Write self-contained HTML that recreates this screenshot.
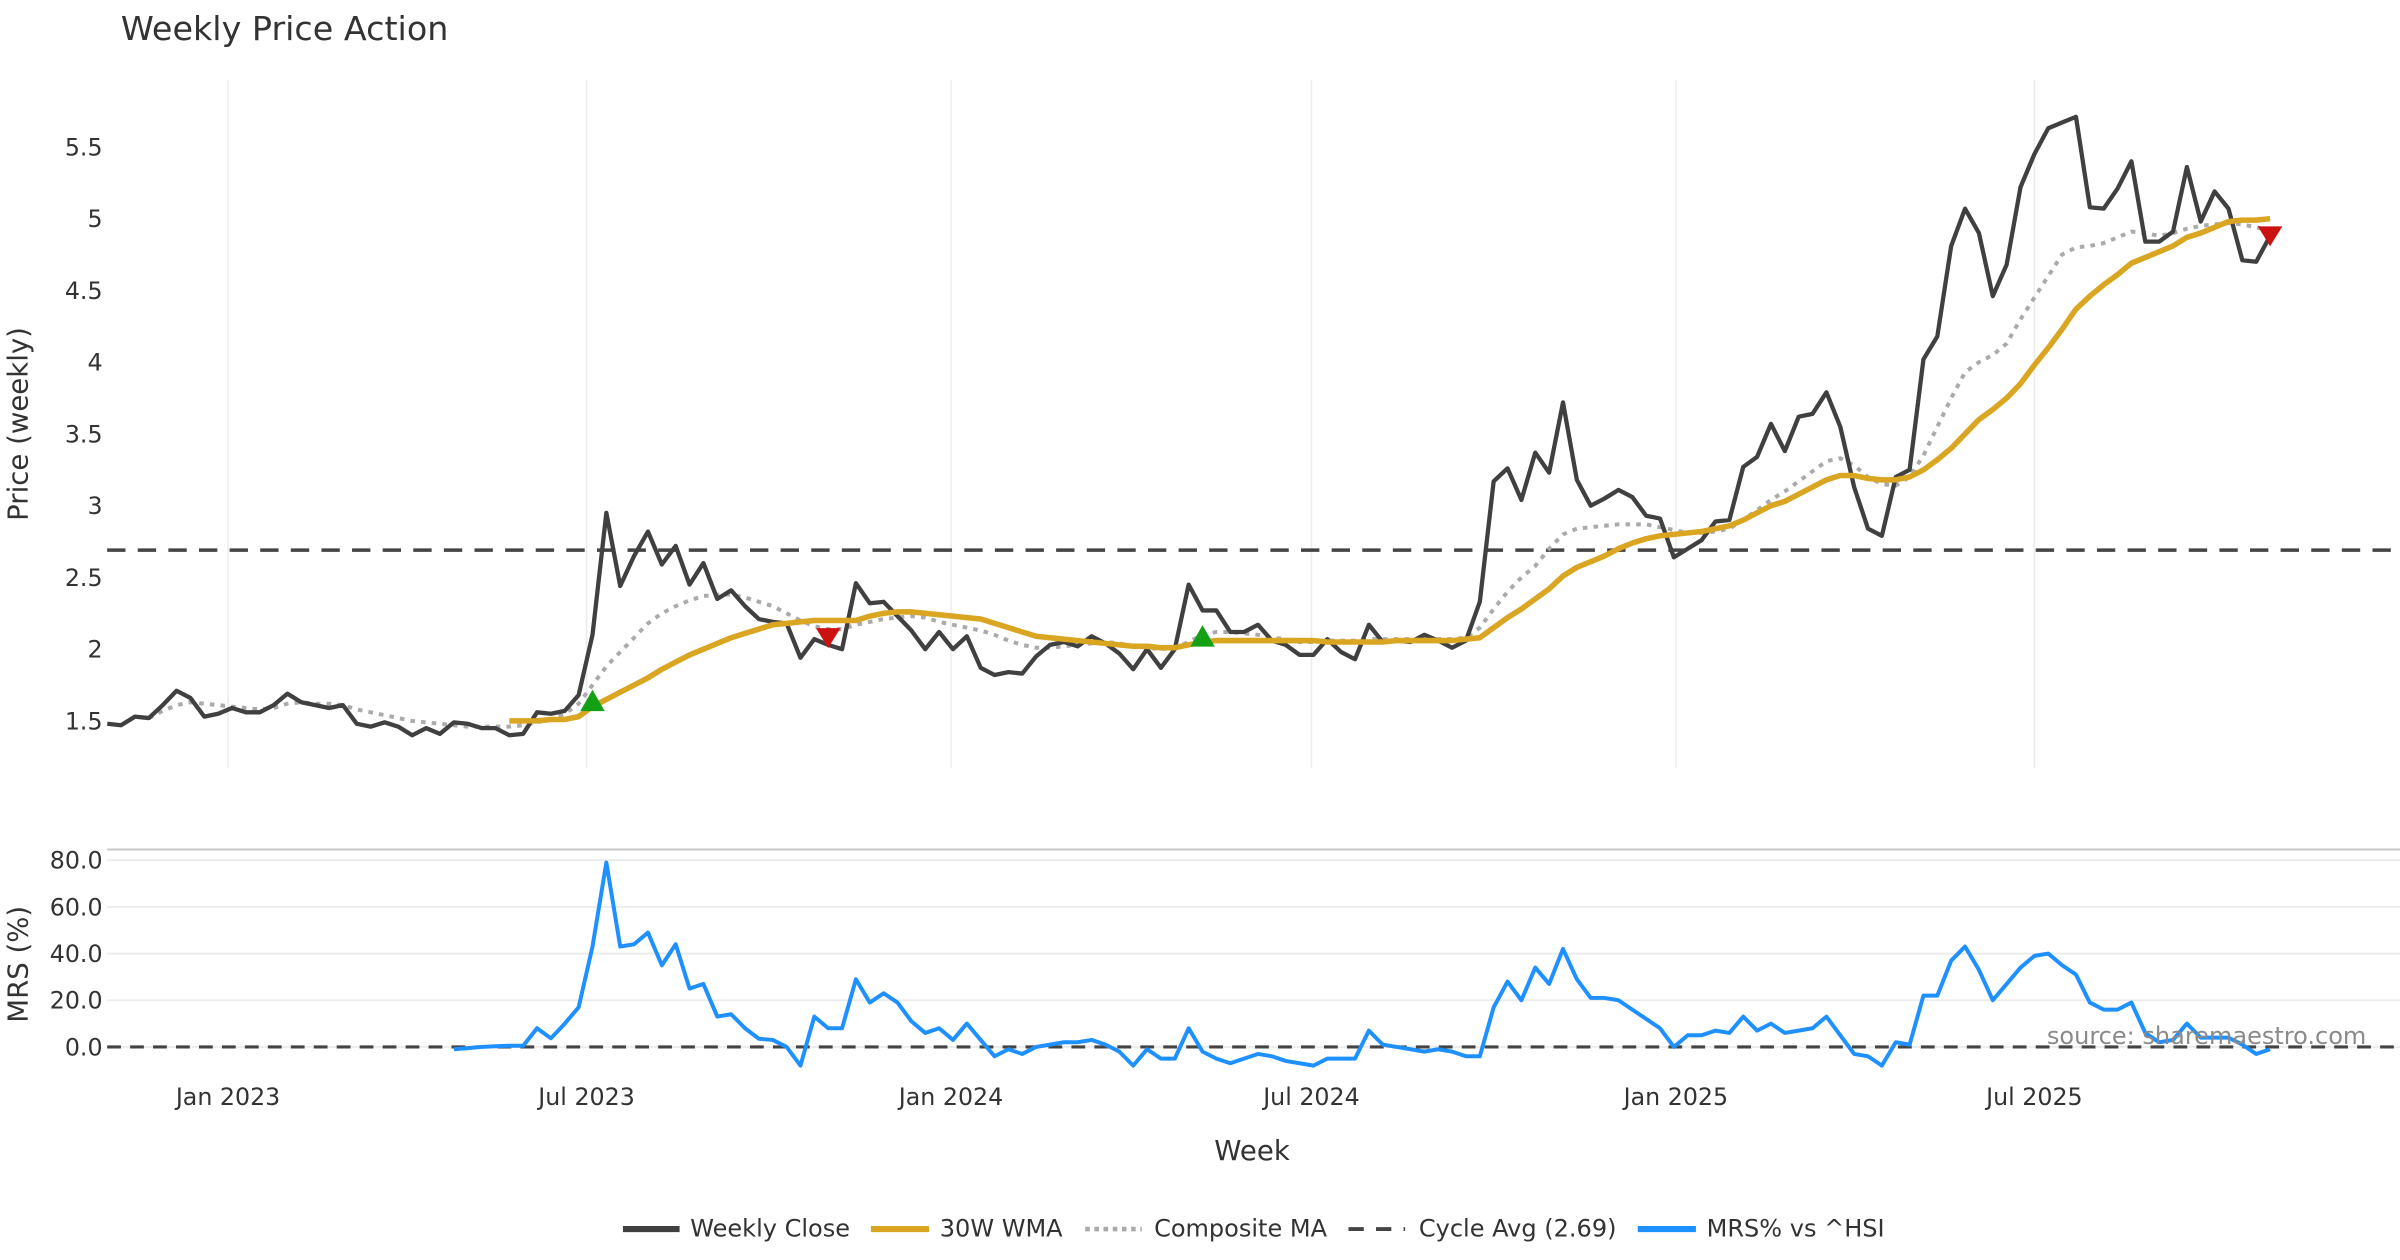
<!DOCTYPE html>
<html><head><meta charset="utf-8"><style>
html,body{margin:0;padding:0;background:#fff;}
svg{display:block;font-family:"DejaVu Sans","Liberation Sans",sans-serif;}
</style></head><body>
<svg id="chart" width="2400" height="1260" viewBox="0 0 1568 823.2" preserveAspectRatio="none" xmlns="http://www.w3.org/2000/svg">
<text x="79" y="26" font-size="21.8" fill="#333">Weekly Price Action</text>
<g id="grid"></g><g id="price"></g><g id="mrs"></g><g id="axes"></g>
<text x="0" y="0" transform="translate(18,277) rotate(-90)" text-anchor="middle" font-size="18" fill="#333">Price (weekly)</text>
<text x="0" y="0" transform="translate(18,630) rotate(-90)" text-anchor="middle" font-size="18" fill="#333">MRS (%)</text>
<text x="818" y="758" text-anchor="middle" font-size="18" fill="#333">Week</text>
<text x="1546" y="682" text-anchor="end" font-size="15.7" fill="#8a8a8a">source: sharemaestro.com</text>
<g font-size="15.7" fill="#333">
 <g><line x1="407" y1="803" x2="444" y2="803" stroke="#404040" stroke-width="4"/><text x="451" y="808">Weekly Close</text></g>
 <g><line x1="569" y1="803" x2="607" y2="803" stroke="#DAA520" stroke-width="4"/><text x="614" y="808">30W WMA</text></g>
 <g><line x1="709" y1="803" x2="746" y2="803" stroke="#aaa" stroke-width="3" stroke-dasharray="3,3"/><text x="754" y="808">Composite MA</text></g>
 <g><line x1="881" y1="803" x2="918" y2="803" stroke="#444" stroke-width="2.5" stroke-dasharray="10,8"/><text x="927" y="808">Cycle Avg (2.69)</text></g>
 <g><line x1="1070" y1="803" x2="1108" y2="803" stroke="#1E90FF" stroke-width="4"/><text x="1115" y="808">MRS% vs ^HSI</text></g>
</g>
</svg>
<script>
const closeVals=[1.48,1.47,1.53,1.52,1.61,1.71,1.66,1.53,1.55,1.59,
1.56,1.56,1.61,1.69,1.63,1.61,1.59,1.61,1.48,1.46,
1.49,1.46,1.40,1.45,1.41,1.49,1.48,1.45,1.45,1.40,
1.41,1.56,1.55,1.57,1.68,2.10,2.95,2.44,2.65,2.82,
2.59,2.72,2.45,2.60,2.35,2.41,2.30,2.21,2.19,2.18,
1.94,2.07,2.03,2.00,2.46,2.32,2.33,2.23,2.13,2.00,
2.12,2.00,2.09,1.87,1.82,1.84,1.83,1.95,2.03,2.05,
2.02,2.09,2.04,1.97,1.86,2.00,1.87,2.00,2.45,2.27,
2.27,2.12,2.12,2.17,2.06,2.03,1.96,1.96,2.07,1.98,
1.93,2.17,2.05,2.06,2.05,2.10,2.06,2.01,2.06,2.33,
3.17,3.26,3.04,3.37,3.23,3.72,3.18,3.00,3.05,3.11,
3.06,2.93,2.91,2.64,2.70,2.76,2.89,2.90,3.27,3.34,
3.57,3.38,3.62,3.64,3.79,3.55,3.13,2.84,2.79,3.20,
3.25,4.02,4.18,4.81,5.07,4.90,4.46,4.68,5.22,5.45,
5.63,5.67,5.71,5.08,5.07,5.21,5.40,4.84,4.84,4.91,
5.36,4.98,5.19,5.07,4.71,4.70,4.88];
const wmaStart=29;
const wmaVals=[1.50,1.50,1.50,1.51,1.51,1.53,1.60,1.65,1.70,1.75,1.80,1.86,1.91,1.96,2.00,2.04,2.08,2.11,2.14,2.17,2.18,2.19,2.20,2.20,2.20,2.20,2.23,2.25,2.26,2.26,2.25,2.24,2.23,2.22,2.21,2.18,2.15,2.12,2.09,2.08,2.07,2.06,2.05,2.04,2.03,2.02,2.02,2.01,2.01,2.03,2.05,2.06,2.06,2.06,2.06,2.06,2.06,2.06,2.06,2.05,2.05,2.05,2.05,2.05,2.06,2.06,2.06,2.06,2.06,2.07,2.08,2.15,2.22,2.28,2.35,2.42,2.51,2.57,2.61,2.65,2.70,2.74,2.77,2.79,2.80,2.81,2.82,2.84,2.86,2.90,2.95,3.00,3.03,3.08,3.13,3.18,3.21,3.21,3.19,3.18,3.18,3.20,3.25,3.32,3.40,3.50,3.60,3.67,3.75,3.85,3.98,4.10,4.23,4.37,4.46,4.54,4.61,4.69,4.73,4.77,4.81,4.87,4.90,4.94,4.98,4.99,4.99,5.00];
const compStart=3;
const compVals=[1.52,1.57,1.61,1.63,1.62,1.61,1.60,1.59,1.58,1.59,1.62,1.63,1.62,1.62,1.61,1.58,1.56,1.54,1.52,1.50,1.49,1.48,1.47,1.46,1.46,1.46,1.46,1.47,1.49,1.51,1.55,1.62,1.75,1.88,1.98,2.08,2.18,2.25,2.30,2.34,2.37,2.38,2.38,2.36,2.33,2.30,2.25,2.20,2.16,2.14,2.14,2.17,2.19,2.21,2.22,2.23,2.22,2.19,2.17,2.15,2.13,2.10,2.06,2.03,2.01,2.01,2.02,2.03,2.04,2.05,2.04,2.02,2.01,2.00,2.01,2.05,2.10,2.12,2.12,2.11,2.10,2.08,2.07,2.05,2.05,2.06,2.06,2.06,2.07,2.07,2.07,2.07,2.07,2.07,2.07,2.08,2.15,2.28,2.40,2.50,2.58,2.70,2.80,2.84,2.85,2.86,2.87,2.87,2.87,2.85,2.83,2.81,2.81,2.82,2.84,2.90,2.97,3.04,3.10,3.17,3.24,3.31,3.33,3.28,3.20,3.15,3.14,3.20,3.35,3.55,3.75,3.93,4.00,4.05,4.13,4.30,4.45,4.60,4.75,4.80,4.81,4.83,4.87,4.91,4.90,4.88,4.90,4.93,4.95,4.96,4.97,4.96,4.94,4.92];
const mrsStart=25;
const mrsVals=[-1,-0.5,0,0.3,0.5,0.5,8,3.7,10,17,43,79,43,44,49,35,44,25,27,13,14,8,3.5,3,0,-8,13,8,8,29,19,23,19,11,6,8,3,10,3,-4,-1,-3,0,1,2,2,3,1,-2,-8,-1,-5,-5,8,-2,-5,-7,-5,-3,-4,-6,-7,-8,-5,-5,-5,7,1,0,-1,-2,-1,-2,-4,-4,17,28,20,34,27,42,29,21,21,20,16,12,8,0,5,5,7,6,13,7,10,6,7,8,13,5,-3,-4,-8,2,1,22,22,37,43,33,20,27,34,39,40,35,31,19,16,16,19,6,2,3,10,4,4,4,1,-3,-1];
const cycleAvg=2.69;
const buyIdx=[35,79];
const sellIdx=[52,156];
const priceTicks=[1.5,2,2.5,3,3.5,4,4.5,5,5.5];
const priceTickLabels=["1.5","2","2.5","3","3.5","4","4.5","5","5.5"];
const mrsTicks=[0,20,40,60,80];
const mrsTickLabels=["0.0","20.0","40.0","60.0","80.0"];
const dateTicks=["2023-01-01","2023-07-01","2024-01-01","2024-07-01","2025-01-01","2025-07-01"];
const dateTickLabels=["Jan 2023","Jul 2023","Jan 2024","Jul 2024","Jan 2025","Jul 2025"];
const startDate="2022-11-01";

const NS="http://www.w3.org/2000/svg";
const DAY=86400000, REF=Date.UTC(2023,0,1);
function xDate(s){const t=Date.parse(s+"T00:00:00Z");return 149+(t-REF)/DAY*1.294;}
const x0=xDate(startDate);
function xi(i){return x0+i*7*1.294;}
function yP(v){return 471-(v-1.5)*93.75;}
function yM(v){return 684-v*1.525;}
function mk(tag,attrs,parent){const e=document.createElementNS(NS,tag);for(const k in attrs)e.setAttribute(k,attrs[k]);parent.appendChild(e);return e;}
const grid=document.getElementById('grid'),price=document.getElementById('price'),mrs=document.getElementById('mrs'),axes=document.getElementById('axes');

dateTicks.forEach((d,k)=>{
 const x=xDate(d);
 const g=mk('line',{x1:x,x2:x,y1:52,y2:502,stroke:'#e9edf2','stroke-width':1},grid);
 
 
 const t=mk('text',{x:x,y:722,'text-anchor':'middle','font-size':15.5,fill:'#333'},axes);
 t.textContent=dateTickLabels[k];
 
 
});
priceTicks.forEach((v,k)=>{
 const t=mk('text',{x:67,y:yP(v)+5.5,'text-anchor':'end','font-size':15.5,fill:'#333'},axes);
 t.textContent=priceTickLabels[k];
 
 
});
mrsTicks.forEach((v,k)=>{
 const l=mk('line',{x1:70,x2:1568,y1:yM(v),y2:yM(v),stroke:'#ebebeb','stroke-width':1.2},grid);
 
 
 const t=mk('text',{x:67,y:yM(v)+5.5,'text-anchor':'end','font-size':15.5,fill:'#333'},axes);
 t.textContent=mrsTickLabels[k];
 
 
});
const div=mk('line',{x1:70,x2:1568,y1:555,y2:555,stroke:'#c8c8c8','stroke-width':1.3},grid);



function pathFrom(vals,start,yf){let d='';vals.forEach((v,j)=>{if(v==null)return;d+=(d?'L':'M')+xi(start+j).toFixed(2)+','+yf(v).toFixed(2);});return d;}
const cyc=mk('line',{x1:70,x2:1568,y1:yP(cycleAvg),y2:yP(cycleAvg),stroke:'#444','stroke-width':2.3,'stroke-dasharray':'12,8'},price);


const comp=mk('path',{d:pathFrom(compVals,compStart,yP),fill:'none',stroke:'#aaa','stroke-width':2.6,'stroke-dasharray':'3,4'},price);


const cl=mk('path',{d:pathFrom(closeVals,0,yP),fill:'none',stroke:'#404040','stroke-width':2.8,'stroke-linejoin':'round'},price);


const wm=mk('path',{d:pathFrom(wmaVals,wmaStart,yP),fill:'none',stroke:'#DAA520','stroke-width':3.6,'stroke-linejoin':'round'},price);


buyIdx.forEach(i=>{
 const x=xi(i),y=yP(wmaVals[i-wmaStart]);
 const p=mk('polygon',{points:`${x-8},${y+3} ${x+8},${y+3} ${x},${y-11}`,fill:'#14a014'},price);
 
 
});
sellIdx.forEach(i=>{
 const x=xi(i),y=yP(wmaVals[i-wmaStart]);
 const p=mk('polygon',{points:`${x-8},${y+5} ${x+8},${y+5} ${x},${y+18}`,fill:'#cc1111'},price);
 
 
});
const z=mk('line',{x1:70,x2:1568,y1:yM(0),y2:yM(0),stroke:'#444','stroke-width':2,'stroke-dasharray':'9,6'},mrs);


const ml=mk('path',{d:pathFrom(mrsVals,mrsStart,yM),fill:'none',stroke:'#1E90FF','stroke-width':2.6,'stroke-linejoin':'round'},mrs);


</script>
</body></html>
